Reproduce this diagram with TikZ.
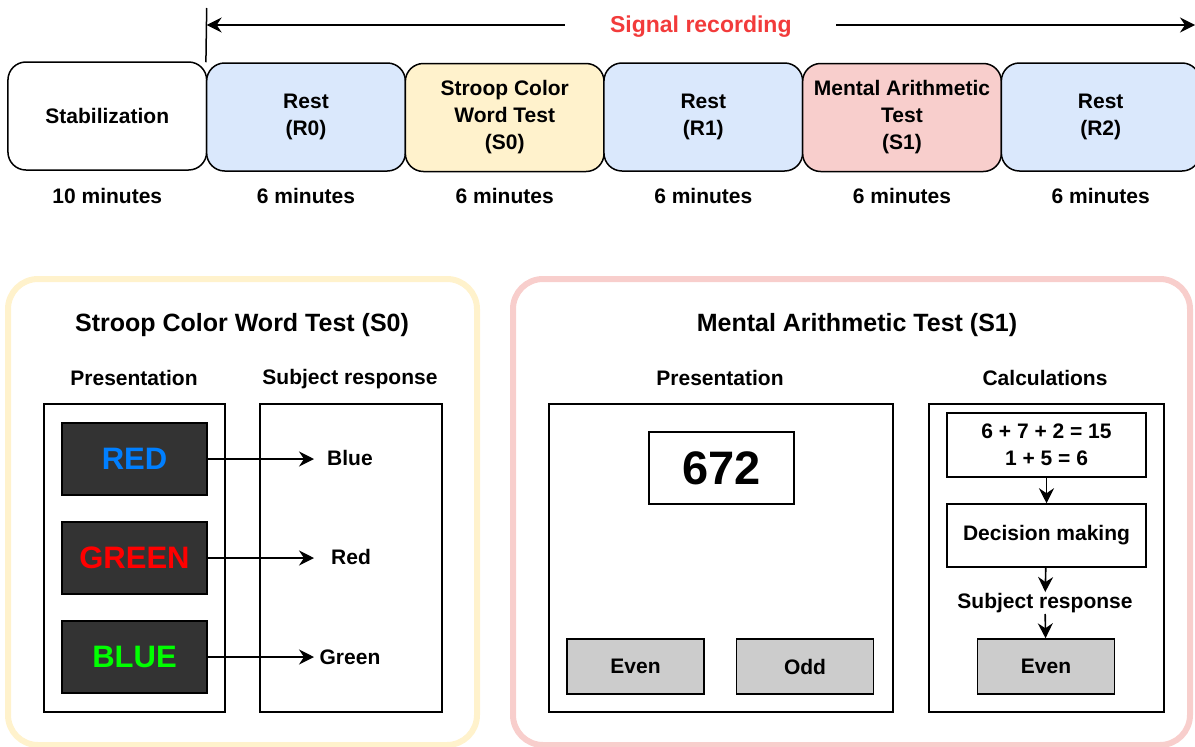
\documentclass[tikz,border=0pt]{standalone}
\usepackage{fontspec}
\setmainfont{Liberation Sans}
\usetikzlibrary{arrows.meta}
\definecolor{restblue}{HTML}{DAE8FC}
\definecolor{stroopyellow}{HTML}{FFF2CC}
\definecolor{mathred}{HTML}{F8CECC}
\definecolor{signalred}{HTML}{F23B3B}
\definecolor{darkscreen}{HTML}{333333}
\definecolor{btngray}{HTML}{CCCCCC}
\definecolor{wordblue}{HTML}{007FFF}
\definecolor{wordred}{HTML}{FF0000}
\definecolor{wordgreen}{HTML}{00FF00}

\begin{document}
\begin{tikzpicture}[x=1pt,y=-1pt,
  every node/.style={font=\bfseries\fontsize{21}{27}\selectfont, align=center},
  phase/.style={draw, line width=1.5pt, rounded corners=18pt, minimum width=198.7pt, minimum height=108pt},
  frame/.style={draw, line width=1.5pt},
  screen/.style={frame, fill=darkscreen, minimum width=145pt, minimum height=72pt, font=\bfseries\fontsize{31}{36}\selectfont},
  button/.style={frame, fill=btngray, minimum width=137pt, minimum height=55pt},
  panel/.style={line width=6pt, rounded corners=30pt},
  arr/.style={-{Stealth[length=15pt,width=15pt,inset=5pt]}, line width=1.6pt},
  title/.style={font=\bfseries\fontsize{25}{30}\selectfont}]
  \useasboundingbox (0,0) rectangle (1195,747);

  % timeline
  \node[phase]                 (stab)  at (107.3,116) {Stabilization};
  \node[phase, fill=restblue]  (rest0) at (306,117)   {Rest\\(R0)};
  \node[phase, fill=stroopyellow] (s0) at (504.7,117.5) {Stroop Color\\Word Test\\(S0)};
  \node[phase, fill=restblue]  (rest1) at (703.3,117) {Rest\\(R1)};
  \node[phase, fill=mathred]   (s1)    at (902,117.5)   {Mental Arithmetic\\Test\\(S1)};
  \node[phase, fill=restblue]  (rest2) at (1100.7,117) {Rest\\(R2)};
  \node (t0) at (107.3,196) {10 minutes};
  \node (t1) at (306,196)   {6 minutes};
  \node (t2) at (504.7,196) {6 minutes};
  \node (t3) at (703.3,196) {6 minutes};
  \node (t4) at (902,196)   {6 minutes};
  \node (t5) at (1100.7,196) {6 minutes};

  \coordinate (recTop) at (206.7,8);
  \coordinate (recL) at (206.7,25);
  \coordinate (recR) at (1195,25);
  \draw[line width=1.5pt] (recTop) -- (rest0.north west);
  \draw[arr, {Stealth[length=15pt,width=15pt,inset=5pt]}-{Stealth[length=15pt,width=15pt,inset=5pt]}] (recL) -- (recR)
    node[midway, fill=white, minimum width=271pt, yshift=-2pt, text=signalred, font=\bfseries\fontsize{23}{28}\selectfont] (rec) {Signal recording};

  % Stroop panel
  \draw[panel, stroopyellow] (8,279) rectangle (477,745);
  \node[title] (stroopT) at (242,325) {Stroop Color Word Test (S0)};
  \node (presL) at (134,378) {Presentation};
  \node (respL) at (350,379) {Subject response};
  \node[frame, minimum width=181pt, minimum height=308pt] (presBox) at (134.5,558) {};
  \node[frame, minimum width=182pt, minimum height=308pt] (respBox) at (351,558) {};
  \node[screen, text=wordblue]  (wRed)   at (134.5,459) {RED};
  \node[screen, text=wordred]   (wGreen) at (134.5,558) {GREEN};
  \node[screen, text=wordgreen] (wBlue)  at (134.5,657) {BLUE};
  \node (aBlue)  at (350,458) {Blue};
  \node (aRed)   at (351,557) {Red};
  \node (aGreen) at (350,657) {Green};
  \coordinate (ansx) at (314,0);
  \draw[arr] (wRed.east) -- (wRed.east -| ansx);
  \draw[arr] (wGreen.east) -- (wGreen.east -| ansx);
  \draw[arr] (wBlue.east) -- (wBlue.east -| ansx);

  % Mental arithmetic panel
  \draw[panel, mathred] (513,279) rectangle (1190,745);
  \node[title] (mathT) at (857,325) {Mental Arithmetic Test (S1)};
  \node (presR) at (720,378) {Presentation};
  \node (calcL) at (1045,378) {Calculations};
  \node[frame, minimum width=344pt, minimum height=308pt] (numBox) at (721,558) {};
  \node[frame, minimum width=145pt, minimum height=72pt, font=\bfseries\fontsize{47}{52}\selectfont] (num) at (721.5,468) {672};
  \node[button] (even) at (635.5,666.5) {Even};
  \node[button] (odd)  at (805,666.5)   {Odd};
  \node[frame, minimum width=235pt, minimum height=308pt] (calcBox) at (1046.5,558) {};
  \node[frame, minimum width=199pt, minimum height=64pt] (sums) at (1046.5,445) {6 + 7 + 2 = 15\\1 + 5 = 6};
  \node[frame, minimum width=199pt, minimum height=63pt] (decide) at (1046.5,535.5) {Decision making};
  \node[inner sep=1pt] (subj) at (1045,603) {Subject response};
  \node[button] (answer) at (1046,666.5) {Even};
  \draw[arr] (sums) -- (decide);
  \draw[arr] (decide) -- (subj);
  \draw[arr] (subj) -- (answer);
\end{tikzpicture}
\end{document}
